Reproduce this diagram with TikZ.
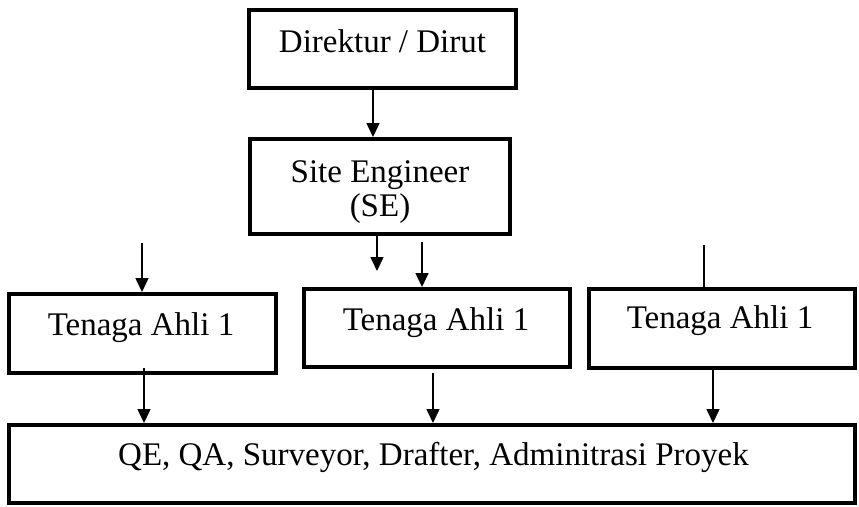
\documentclass[tikz,border=0pt]{standalone}
\usepackage{fontspec}
\setmainfont{Liberation Serif}
\usetikzlibrary{arrows.meta,calc}

\tikzset{
  box/.style={draw, line width=4pt, rectangle, inner sep=0pt, fill=white},
  lbl/.style={anchor=base, inner sep=0pt, font=\fontsize{33}{40}\selectfont},
  arr/.style={line width=1.5pt, -{Triangle[width=13pt,length=14pt]}},
  plain/.style={line width=1.5pt}
}

\begin{document}
\begin{tikzpicture}[x=1pt, y=-1pt]
  \useasboundingbox (0,0) rectangle (859,506);

  % boxes
  \node[box, minimum width=267pt, minimum height=78pt] (dir) at (382.5,49) {};
  \node[box, minimum width=260pt, minimum height=95pt] (se)  at (380,186.5) {};
  \node[box, minimum width=267pt, minimum height=79pt] (ta)  at (142.5,333.5) {};
  \node[box, minimum width=266pt, minimum height=78pt] (tb)  at (437,328) {};
  \node[box, minimum width=266pt, minimum height=79pt] (tc)  at (722,328.5) {};
  \node[box, minimum width=846pt, minimum height=78pt] (staf) at (432,464) {};

  % texts
  \node[lbl] (tdir) at (382.5,52) {Direktur / Dirut};
  \node[lbl] (tse1) at (380,182) {Site Engineer};
  \node[lbl] (tse2) at (380,216) {(SE)};
  \node[lbl] (tta)  at (141,335) {Tenaga Ahli 1};
  \node[lbl] (ttb)  at (436,330) {Tenaga Ahli 1};
  \node[lbl] (ttc)  at (720,328) {Tenaga Ahli 1};
  \node[lbl] (tstaf) at (433.5,465) {QE, QA, Surveyor, Drafter, Adminitrasi Proyek};

  % loose arrow ends
  \coordinate (seend) at (377,271);
  \coordinate (lstart) at (142,243);
  \coordinate (rstart) at (704,245);

  % connectors
  \draw[arr] ($(dir.south)+(-9.5,0)$) -- ($(se.north)+(-7,0)$);
  \draw[arr] ($(se.south)+(-3,0)$) -- (seend);
  \draw[arr] ($(se.south)+(42,6)$) -- ($(tb.north)+(-15,0)$);
  \draw[arr] (lstart) -- ($(ta.north)+(-0.5,0)$);
  \draw[plain] (rstart) -- ($(tc.north)+(-18,0)$);
  \draw[arr] ($(ta.south)+(1.5,-7)$) -- ($(staf.north)+(-288,0)$);
  \draw[arr] ($(tb.south)+(-4,4)$) -- ($(staf.north)+(1,0)$);
  \draw[arr] (tc.south -| {713,0}) -- ($(staf.north)+(281,0)$);
\end{tikzpicture}
\end{document}
